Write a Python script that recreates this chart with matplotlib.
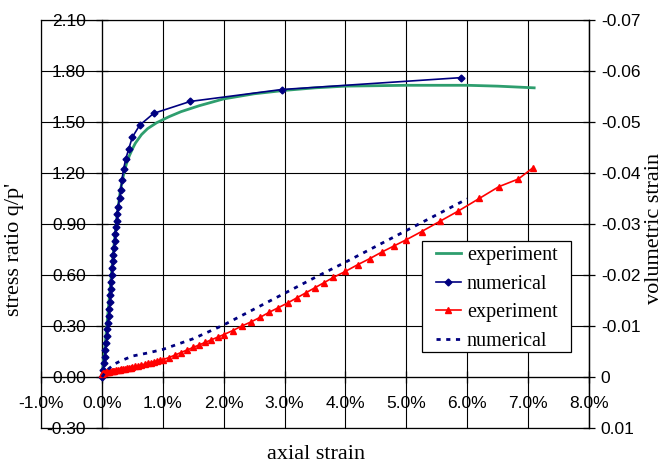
import matplotlib.pyplot as plt
from matplotlib.patches import Rectangle
from matplotlib.ticker import FixedLocator, FuncFormatter

plt.rcParams['font.family'] = ['Liberation Sans', 'DejaVu Sans']

# stress ratio q/p' vs axial strain (%)
exp_q_strain = [0.0, 0.05, 0.10, 0.15, 0.20, 0.25, 0.30, 0.35, 0.40, 0.45, 0.50, 0.55,
                0.60, 0.65, 0.75, 0.90, 1.10, 1.30, 1.60, 2.00, 2.50, 3.00, 3.50, 4.00,
                5.00, 6.00, 6.50, 7.10]
exp_q = [0.0, 0.18, 0.38, 0.58, 0.78, 0.95, 1.09, 1.18, 1.25, 1.30, 1.34, 1.375,
         1.40, 1.425, 1.46, 1.495, 1.53, 1.56, 1.595, 1.635, 1.665, 1.685, 1.70, 1.71,
         1.715, 1.715, 1.71, 1.70]

num_q_strain = [0.00, 0.02, 0.03, 0.045, 0.055, 0.07, 0.08, 0.09, 0.10, 0.11, 0.12, 0.13,
                0.14, 0.145, 0.155, 0.165, 0.17, 0.18, 0.19, 0.20, 0.21, 0.22, 0.23, 0.24,
                0.25, 0.265, 0.29, 0.31, 0.33, 0.355, 0.39, 0.44, 0.50, 0.62, 0.85, 1.45,
                2.95, 5.90]
num_q = [0.00, 0.04, 0.08, 0.12, 0.16, 0.20, 0.24, 0.28, 0.32, 0.36, 0.40, 0.44,
         0.48, 0.52, 0.56, 0.60, 0.64, 0.68, 0.72, 0.76, 0.80, 0.84, 0.88, 0.92,
         0.96, 1.00, 1.05, 1.10, 1.16, 1.22, 1.28, 1.34, 1.41, 1.48, 1.55, 1.62,
         1.69, 1.76]

# volumetric strain vs axial strain (%)
exp_v_strain = [0.00, 0.02, 0.04, 0.06, 0.08, 0.10, 0.12, 0.14, 0.16, 0.18, 0.20, 0.23,
                0.26, 0.29, 0.32, 0.35, 0.38, 0.41, 0.44, 0.47, 0.50, 0.55, 0.60, 0.65,
                0.70, 0.75, 0.80, 0.85, 0.90, 0.95, 1.00, 1.10, 1.20, 1.30, 1.40, 1.50,
                1.60, 1.70, 1.80, 1.90, 2.00, 2.15, 2.30, 2.45, 2.60, 2.75, 2.90, 3.05,
                3.20, 3.35, 3.50, 3.65, 3.80, 4.00, 4.20, 4.40, 4.60, 4.80, 5.00, 5.25,
                5.55, 5.85, 6.20, 6.52, 6.84, 7.08]
exp_v = [-0.0005, -0.0007, -0.0008, -0.0009, -0.0009, -0.0010, -0.0010, -0.0011,
         -0.0011, -0.0012, -0.0012, -0.0013, -0.0014, -0.0014, -0.0015, -0.0016,
         -0.0016, -0.0017, -0.0018, -0.0018, -0.0019, -0.0021, -0.0022, -0.0024,
         -0.0025, -0.0027, -0.0028, -0.0030, -0.0031, -0.0033, -0.0034, -0.0038,
         -0.0043, -0.0048, -0.0053, -0.0058, -0.0063, -0.0068, -0.0073, -0.0078,
         -0.0083, -0.0091, -0.0100, -0.0108, -0.0117, -0.0127, -0.0136, -0.0145,
         -0.0155, -0.0165, -0.0175, -0.0185, -0.0195, -0.0207, -0.0220, -0.0232,
         -0.0245, -0.0257, -0.0269, -0.0285, -0.0305, -0.0325, -0.0350, -0.0373,
         -0.0388, -0.0410]

num_v_strain = [0.0, 0.05, 0.10, 0.20, 0.30, 0.50, 0.75, 1.00, 1.50, 2.00, 2.50, 3.00,
                3.50, 4.00, 4.50, 5.00, 5.50, 6.00]
num_v = [0.0, -0.0008, -0.0015, -0.0025, -0.0031, -0.0041, -0.0047, -0.0054, -0.0075,
         -0.0102, -0.0133, -0.0164, -0.0195, -0.0225, -0.0256, -0.0287, -0.0318, -0.0349]

x_ticks = [-1, 0, 1, 2, 3, 4, 5, 6, 7, 8]
q_ticks = [-0.30, 0.00, 0.30, 0.60, 0.90, 1.20, 1.50, 1.80, 2.10]
v_ticks = [0.01, 0, -0.01, -0.02, -0.03, -0.04, -0.05, -0.06, -0.07]

green = '#2e9e6e'
navy = '#000080'
red = '#ff0000'

fig = plt.figure(figsize=(6.67, 4.66), dpi=100)
ax = fig.add_axes([0.0615, 0.0815, 0.8215, 0.876])
ax.set_xlim(-1, 8)
ax.set_ylim(-0.30, 2.10)

ax.xaxis.set_major_locator(FixedLocator(x_ticks))
ax.yaxis.set_major_locator(FixedLocator(q_ticks))
ax.xaxis.set_major_formatter(FuncFormatter(lambda v, p: f'{v:.1f}%'))
ax.yaxis.set_major_formatter(FuncFormatter(lambda v, p: f'{v:.2f}'))
ax.grid(True, color='black', lw=0.8)
ax.set_axisbelow(True)

# excel style: axes cross at zero, box around the plot area
ax.spines['left'].set_position(('data', 0))
ax.spines['bottom'].set_position(('data', 0))
for s in ax.spines.values():
    s.set_linewidth(0.9)
ax.axvline(-1, color='black', lw=0.9, clip_on=False)
ax.axhline(-0.30, color='black', lw=0.9, clip_on=False)
ax.tick_params(axis='both', direction='inout', length=9, width=0.9, labelsize=12.5)
ax.tick_params(axis='x', pad=9)
ax.tick_params(axis='y', pad=7)

ax.plot(exp_q_strain, exp_q, color=green, lw=2, label='experiment', zorder=3)
ax.plot(num_q_strain, num_q, color=navy, lw=1.2, marker='D', ms=3.5,
        label='numerical', zorder=4)

ax2 = ax.twinx()
ax2.set_ylim(0.01, -0.07)
ax2.yaxis.set_major_locator(FixedLocator(v_ticks))
ax2.yaxis.set_major_formatter(
    FuncFormatter(lambda v, p: '0' if abs(v) < 1e-9 else f'{v:.2f}'))
for side in ['left', 'top', 'bottom']:
    ax2.spines[side].set_visible(False)
ax2.spines['right'].set_linewidth(0.9)
ax2.tick_params(axis='y', direction='inout', length=9, width=0.9,
                labelsize=12.5, pad=4)

ax2.plot(exp_v_strain, exp_v, color=red, lw=1.2, marker='^', ms=4,
         label='experiment', zorder=3)
ax2.plot(num_v_strain, num_v, color=navy, lw=2, ls=(0, (1.5, 2)),
         label='numerical', zorder=3)

# legend box: frame drawn separately so the side padding can be wider than top/bottom
box = (0.695, 0.187, 0.273, 0.272)
ax2.add_patch(Rectangle(box[:2], box[2], box[3], transform=ax2.transAxes,
                        facecolor='white', edgecolor='black', lw=0.9, zorder=5))
h1, l1 = ax.get_legend_handles_labels()
h2, l2 = ax2.get_legend_handles_labels()
leg = ax2.legend(h1 + h2, l1 + l2, loc='center',
                 bbox_to_anchor=(box[0] + box[2] / 2, box[1] + box[3] / 2 - 0.006),
                 frameon=False, borderpad=0, borderaxespad=0,
                 prop={'family': 'Liberation Serif', 'size': 14.5},
                 handlelength=1.25, handletextpad=0.3, labelspacing=0.47)
leg.set_zorder(6)

fig.text(0.022, 0.465, "stress ratio q/p'", rotation=90, ha='center', va='center',
         family='Liberation Serif', fontsize=16)
fig.text(0.982, 0.51, 'volumetric strain', rotation=90, ha='center', va='center',
         family='Liberation Serif', fontsize=16)
fig.text(0.474, 0.024, 'axial strain', ha='center', va='center',
         family='Liberation Serif', fontsize=16)

fig.savefig('out.png', dpi=100)
